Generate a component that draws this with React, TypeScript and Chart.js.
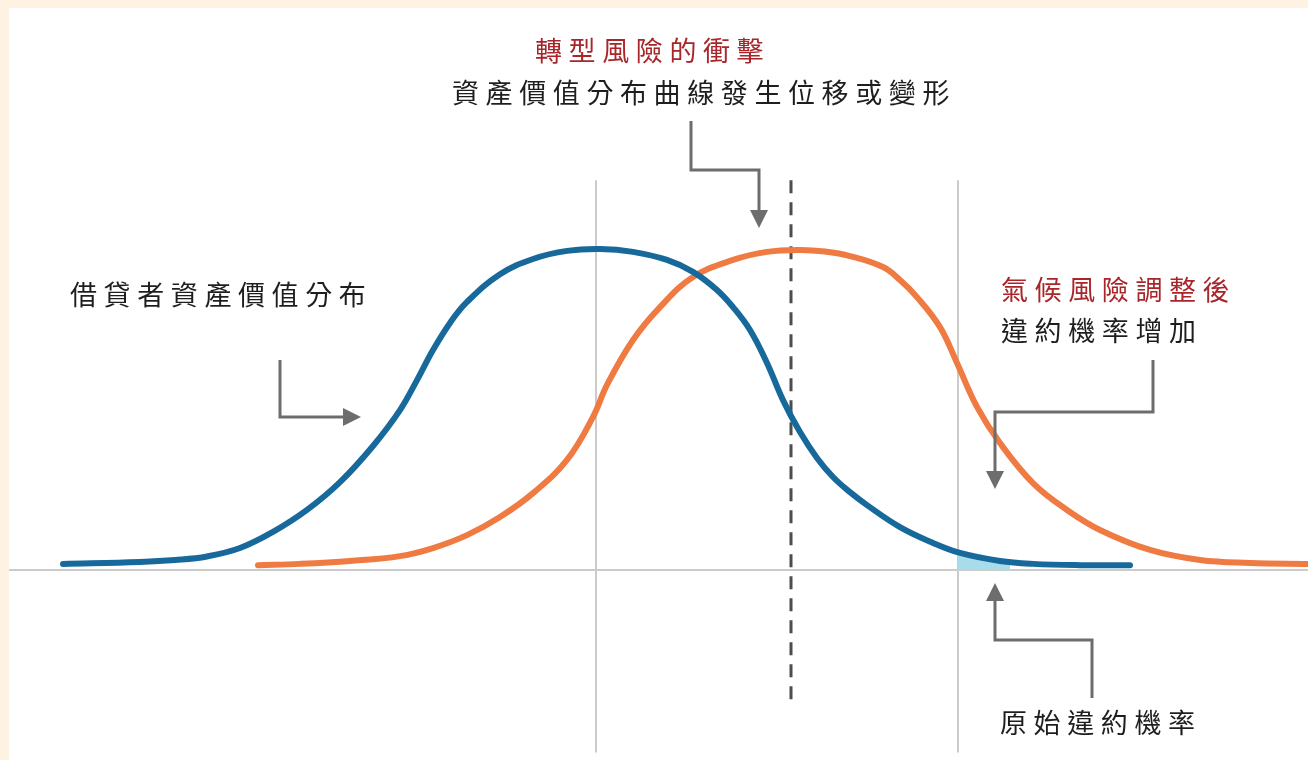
import React, { useEffect, useRef } from "react";
import { Chart, registerables } from "chart.js";

Chart.register(...registerables);

// ---- data (x: asset value in units from the original mean, y: relative density, peak ≈ 100) ----
const BLUE_X = [-5.33, -4.56, -4.21, -3.89, -3.56, -3.23, -2.89, -2.56, -2.23, -1.96, -1.79, -1.63, -1.46, -1.29, -0.96, -0.63, -0.29, 0.04, 0.37, 0.71, 0.97, 1.21, 1.37, 1.54, 1.71, 1.87, 2.04, 2.21, 2.37, 2.54, 2.71, 3.04, 3.37, 3.64, 4.04, 4.37, 4.84, 5.34];
const BLUE_Y = [1.9, 2.5, 3.1, 4.2, 6.8, 11.8, 18.6, 27.2, 38.4, 49.5, 58.8, 68.1, 76.5, 83.0, 91.6, 96.3, 98.8, 99.4, 98.5, 96.0, 92.3, 86.7, 81.4, 74.3, 64.1, 52.6, 42.7, 34.7, 28.8, 24.1, 20.1, 13.3, 8.4, 5.3, 2.8, 1.9, 1.5, 1.5];

const ORANGE_X = [-3.38, -2.96, -2.46, -1.96, -1.63, -1.29, -0.96, -0.63, -0.29, -0.03, 0.11, 0.37, 0.64, 0.97, 1.37, 1.71, 2.04, 2.29, 2.54, 2.87, 3.04, 3.21, 3.44, 3.61, 3.81, 4.04, 4.37, 4.71, 5.04, 5.54, 6.04, 6.54, 7.12];
const ORANGE_Y = [1.5, 1.9, 2.8, 4.3, 6.8, 10.8, 16.4, 23.8, 34.1, 47.4, 57.3, 71.2, 81.4, 90.7, 96.0, 98.5, 99.1, 98.6, 97.2, 93.8, 89.8, 84.5, 75.2, 64.1, 50.5, 39.3, 26.9, 18.6, 12.4, 6.2, 3.1, 2.2, 1.9];

// original default-probability tail (area under blue curve beyond the threshold)
const SHADE_X = [3.62, 3.85, 4.14];
const SHADE_Y = [5.3, 3.8, 2.3];

const THRESHOLD_X = [0, 3.62]; // grey vertical reference lines
const SHIFTED_MEAN_X = 1.95; // dashed line
const GRID_TOP = 120.7;
const GRID_BOTTOM = -56.5;
const DASH_TOP = 120.7;
const DASH_BOTTOM = -40.9;
const X_MIN = -5.87;
const X_MAX = 7.12;
const Y_MIN = -58.82;
const Y_MAX = 174.0;

const BLUE = "#17699c";
const ORANGE = "#ef7a42";
const GREY = "#cbcbcb";
const ARROW = "#6d6d6d";
const RED = "#a8262a";
const INK = "#1e1e1e";

const LEFT = 9;
const TOP = 8;
const W = 1299;
const H = 752;

type Pt = [number, number];
const ARROWS: { path: Pt[]; tip: Pt }[] = [
  { path: [[691, 121], [691, 170], [759, 170], [759, 210]], tip: [759, 228] },
  { path: [[280, 360], [280, 417], [343, 417]], tip: [361, 417] },
  { path: [[1153, 360], [1153, 412], [995, 412], [995, 471]], tip: [995, 489] },
  { path: [[1092, 698], [1092, 640], [995, 640], [995, 601]], tip: [995, 583] },
];

const zip = (xs: number[], ys: number[]) => xs.map((x, i) => ({ x, y: ys[i] }));

const arrowPlugin = {
  id: "arrows",
  afterDatasetsDraw(chart: any) {
    const ctx = chart.ctx as CanvasRenderingContext2D;
    ctx.save();
    ctx.strokeStyle = ARROW;
    ctx.fillStyle = ARROW;
    ctx.lineWidth = 3;
    ctx.lineJoin = "miter";
    for (const a of ARROWS) {
      ctx.beginPath();
      a.path.forEach(([x, y], i) => {
        const px = x - LEFT;
        const py = y - TOP;
        if (i === 0) ctx.moveTo(px, py);
        else ctx.lineTo(px, py);
      });
      ctx.stroke();
      const [ex, ey] = a.path[a.path.length - 1];
      const [tx, ty] = a.tip;
      const dx = tx - ex;
      const dy = ty - ey;
      const len = Math.hypot(dx, dy) || 1;
      const nx = -dy / len;
      const ny = dx / len;
      const hw = 9;
      ctx.beginPath();
      ctx.moveTo(tx - LEFT, ty - TOP);
      ctx.lineTo(ex + nx * hw - LEFT, ey + ny * hw - TOP);
      ctx.lineTo(ex - nx * hw - LEFT, ey - ny * hw - TOP);
      ctx.closePath();
      ctx.fill();
    }
    ctx.restore();
  },
};

const textStyle = (left: number, top: number, color: string): React.CSSProperties => ({
  position: "absolute",
  left,
  top,
  color,
  fontFamily: '"Noto Sans CJK TC", "Noto Sans CJK SC", sans-serif',
  fontSize: 27,
  fontWeight: 400,
  letterSpacing: 6.6,
  lineHeight: "27px",
  whiteSpace: "nowrap",
});

if (typeof document !== "undefined") {
  document.documentElement.style.overflow = "hidden";
  document.body.style.overflow = "hidden";
  document.body.style.backgroundColor = "#fef2e2";
}

export default function App() {
  const ref = useRef<HTMLCanvasElement>(null);

  useEffect(() => {
    if (!ref.current) return;
    const curve = {
      borderWidth: 6,
      borderCapStyle: "round",
      borderJoinStyle: "round",
      tension: 0.4,
      pointRadius: 0,
      fill: false,
    };
    const chart = new Chart(ref.current, {
      type: "line",
      data: {
        datasets: [
          {
            ...curve,
            label: "借貸者資產價值分布",
            data: zip(BLUE_X, BLUE_Y),
            borderColor: BLUE,
            order: 1,
          },
          {
            ...curve,
            label: "氣候風險調整後",
            data: zip(ORANGE_X, ORANGE_Y),
            borderColor: ORANGE,
            order: 2,
          },
          {
            label: "原始違約機率",
            data: zip(SHADE_X, SHADE_Y),
            borderWidth: 0,
            borderColor: "rgba(0,0,0,0)",
            backgroundColor: "#a9dcea",
            tension: 0.4,
            pointRadius: 0,
            fill: "origin",
            order: 5,
          },
          {
            label: "dash",
            data: [
              { x: SHIFTED_MEAN_X, y: DASH_TOP },
              { x: SHIFTED_MEAN_X, y: DASH_BOTTOM },
            ],
            borderColor: "#4d4d4d",
            borderWidth: 3,
            borderDash: [13, 9],
            pointRadius: 0,
            fill: false,
            order: 3,
          },
          ...THRESHOLD_X.map((x) => ({
            label: "grid",
            data: [
              { x, y: GRID_TOP },
              { x, y: GRID_BOTTOM },
            ],
            borderColor: GREY,
            borderWidth: 2,
            pointRadius: 0,
            fill: false,
            order: 10,
          })),
          {
            label: "baseline",
            data: [
              { x: X_MIN, y: 0 },
              { x: X_MAX, y: 0 },
            ],
            borderColor: GREY,
            borderWidth: 2,
            pointRadius: 0,
            fill: false,
            order: 10,
          },
        ] as any,
      },
      options: {
        responsive: false,
        maintainAspectRatio: false,
        animation: false,
        layout: { padding: 0 },
        plugins: { legend: { display: false }, tooltip: { enabled: false } },
        scales: {
          x: { type: "linear", min: X_MIN, max: X_MAX, display: false },
          y: { type: "linear", min: Y_MIN, max: Y_MAX, display: false },
        },
      },
      plugins: [arrowPlugin],
    });
    return () => chart.destroy();
  }, []);

  return (
    <div
      style={{
        position: "absolute",
        left: LEFT,
        top: TOP,
        width: W,
        height: H,
        background: "#ffffff",
        overflow: "hidden",
      }}
    >
      <canvas ref={ref} width={W} height={H} style={{ position: "absolute", left: 0, top: 0, width: W, height: H }} />
      <div style={textStyle(535 - LEFT, 36 - TOP, RED)}>轉型風險的衝擊</div>
      <div style={textStyle(452 - LEFT, 78 - TOP, INK)}>資產價值分布曲線發生位移或變形</div>
      <div style={textStyle(70 - LEFT, 280 - TOP, INK)}>借貸者資產價值分布</div>
      <div style={textStyle(1001 - LEFT, 275 - TOP, RED)}>氣候風險調整後</div>
      <div style={textStyle(1001 - LEFT, 316 - TOP, INK)}>違約機率增加</div>
      <div style={textStyle(1000 - LEFT, 708 - TOP, INK)}>原始違約機率</div>
    </div>
  );
}
